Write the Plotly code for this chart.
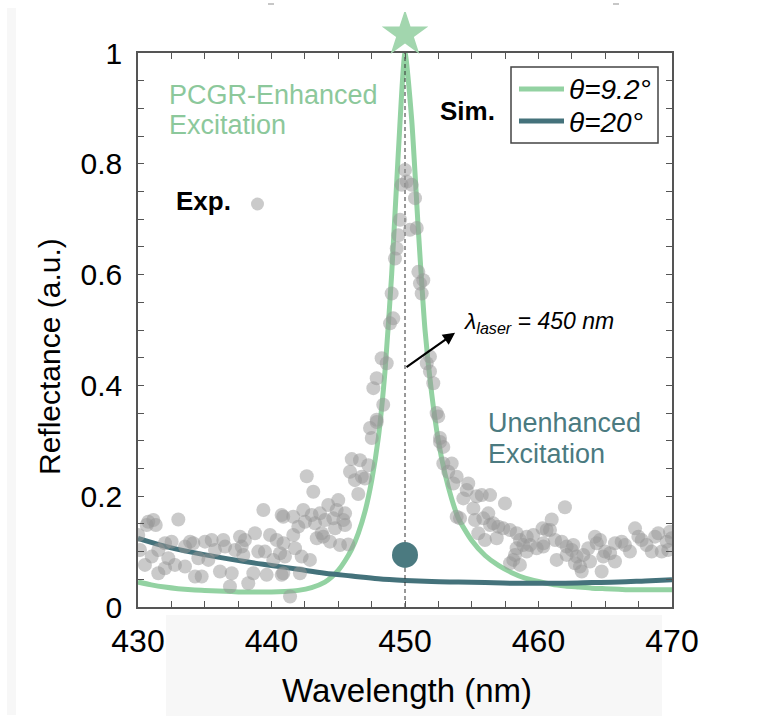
import plotly.graph_objects as go

# ---------------- data ----------------
# simulated reflectance, theta = 9.2 deg (resonant)
sim92_wl = [430, 431, 432, 433, 434, 435, 436, 437, 438, 439, 440, 441, 442, 443, 444,
            444.5, 445, 445.5, 446, 446.5, 447, 447.5, 448, 448.5, 449, 449.5, 450,
            450.5, 451, 451.5, 452, 452.5, 453, 453.5, 454, 455, 456, 457, 458, 459,
            460, 461, 462, 463, 464, 465, 466, 467, 468, 469, 470]
sim92_r = [0.045, 0.040, 0.036, 0.033, 0.031, 0.030, 0.029, 0.028, 0.027, 0.027, 0.027,
           0.028, 0.030, 0.035, 0.045, 0.054, 0.066, 0.083, 0.104, 0.133, 0.172, 0.228,
           0.305, 0.425, 0.600, 0.820, 1.000, 0.880, 0.680, 0.500, 0.385, 0.300, 0.240,
           0.195, 0.160, 0.120, 0.093, 0.075, 0.062, 0.052, 0.046, 0.041, 0.038, 0.036,
           0.034, 0.033, 0.032, 0.031, 0.031, 0.031, 0.031]

# simulated reflectance, theta = 20 deg (off resonance)
sim20_wl = [430, 432, 434, 436, 438, 440, 442, 444, 446, 448, 450, 452, 454, 456, 458,
            460, 462, 464, 466, 468, 470]
sim20_r = [0.124, 0.110, 0.099, 0.090, 0.082, 0.075, 0.068, 0.061, 0.056, 0.051, 0.048,
           0.046, 0.045, 0.044, 0.043, 0.043, 0.043, 0.044, 0.045, 0.047, 0.049]

# measured reflectance spectrum
exp_wl = [430.77, 431.15, 431.33, 430.65, 433.02, 430.02, 430.15, 431.03, 430.52, 431.52,
          432.02, 432.27, 432.77, 433.52, 432.52, 432.02, 431.52, 433.52, 433.90, 434.14,
          434.52, 434.27, 434.77, 435.02, 435.52, 435.77, 435.27, 436.14, 436.39, 436.52,
          437.02, 436.89, 437.27, 437.64, 437.77, 438.01, 437.89, 438.26, 438.64, 438.76,
          439.01, 439.39, 439.51, 439.64, 439.89, 440.13, 440.39, 440.76, 440.64, 440.76,
          447.38, 447.88, 447.51, 446.01, 446.63, 447.25, 445.88, 446.25, 446.76, 447.00,
          446.50, 442.64, 443.13, 444.25, 445.00, 444.88, 445.51, 442.38, 440.88, 441.63,
          443.01, 443.63, 442.51, 442.01, 443.26, 444.01, 444.63, 445.38, 444.76, 445.51,
          441.63, 443.76, 443.39, 443.88, 444.38, 445.13, 445.75, 440.90, 441.76, 441.01,
          442.26, 442.88, 442.13, 440.88, 441.39,
          450.00, 450.13, 449.75, 450.50, 450.75, 449.63, 450.37, 450.88, 449.50, 449.38,
          449.25, 451.00, 451.37, 451.12, 451.25, 449.00, 449.12, 448.88, 448.25, 448.63,
          451.87, 451.63, 451.87, 452.12, 447.88, 447.63, 448.37, 452.37, 452.49, 447.88,
          452.62,
          452.62, 452.87, 452.87, 453.50, 453.24, 453.87, 453.62, 454.74, 454.62, 454.37,
          455.37, 455.75, 456.37, 457.49, 455.12, 453.87, 454.12, 455.24, 455.87, 456.24,
          456.61, 456.99, 456.37, 457.36, 457.87, 455.49, 455.99, 456.87, 458.36, 458.61,
          459.12, 459.61, 458.86, 459.36, 459.86, 458.36, 459.12, 458.24, 458.11, 457.87,
          458.61, 460.36, 460.61,
          461.98, 460.99, 460.30, 460.86, 460.36, 461.24, 461.74, 462.11, 462.61, 462.49,
          462.11, 461.36, 462.86, 462.73, 463.36, 463.11, 463.86, 463.24, 463.73, 464.23,
          464.36, 464.61, 464.98, 464.85, 465.36, 465.73, 464.73, 465.73, 466.23, 466.48,
          466.85, 467.23, 467.48, 467.73, 468.10, 468.48, 468.73, 468.97, 469.23, 469.60,
          469.85, 469.98, 469.72]
exp_r = [0.154, 0.157, 0.148, 0.148, 0.158, 0.130, 0.103, 0.091, 0.076, 0.061,
         0.070, 0.088, 0.076, 0.073, 0.118, 0.115, 0.103, 0.109, 0.118, 0.115,
         0.088, 0.055, 0.055, 0.118, 0.121, 0.103, 0.085, 0.064, 0.121, 0.109,
         0.061, 0.037, 0.103, 0.127, 0.109, 0.121, 0.094, 0.043, 0.061, 0.133,
         0.100, 0.175, 0.100, 0.058, 0.130, 0.085, 0.121, 0.166, 0.097, 0.058,
         0.323, 0.334, 0.305, 0.267, 0.265, 0.256, 0.244, 0.229, 0.235, 0.232,
         0.204, 0.236, 0.208, 0.184, 0.193, 0.175, 0.169, 0.175, 0.163, 0.163,
         0.166, 0.169, 0.154, 0.145, 0.151, 0.157, 0.160, 0.157, 0.142, 0.148,
         0.130, 0.133, 0.124, 0.127, 0.118, 0.112, 0.113, 0.115, 0.106, 0.091,
         0.091, 0.085, 0.061, 0.061, 0.019,
         0.789, 0.768, 0.762, 0.762, 0.738, 0.699, 0.681, 0.684, 0.671, 0.647,
         0.629, 0.605, 0.590, 0.584, 0.566, 0.566, 0.521, 0.512, 0.449, 0.440,
         0.452, 0.440, 0.425, 0.404, 0.413, 0.395, 0.365, 0.350, 0.344, 0.338,
         0.305,
         0.298, 0.289, 0.259, 0.259, 0.244, 0.235, 0.223, 0.223, 0.211, 0.196,
         0.200, 0.202, 0.202, 0.187, 0.178, 0.163, 0.160, 0.157, 0.160, 0.169,
         0.151, 0.145, 0.148, 0.142, 0.139, 0.133, 0.121, 0.124, 0.133, 0.121,
         0.127, 0.130, 0.112, 0.112, 0.106, 0.106, 0.100, 0.094, 0.085, 0.079,
         0.076, 0.109, 0.139,
         0.180, 0.158, 0.142, 0.139, 0.115, 0.121, 0.118, 0.109, 0.112, 0.103,
         0.094, 0.085, 0.091, 0.079, 0.094, 0.073, 0.082, 0.064, 0.106, 0.127,
         0.115, 0.121, 0.100, 0.091, 0.097, 0.082, 0.064, 0.115, 0.118, 0.112,
         0.100, 0.142, 0.127, 0.121, 0.112, 0.100, 0.127, 0.133, 0.100, 0.118,
         0.136, 0.124, 0.103]

laser_wl = 450          # excitation laser wavelength (nm)
peak_marker_r = 1.034   # star drawn just above the resonance peak
unenhanced_r = 0.094    # reflectance at the laser line for theta = 20 deg

x_ticks = [430, 440, 450, 460, 470]
y_ticks = [0, 0.2, 0.4, 0.6, 0.8, 1]
y_ticktext = ["0", "0.2", "0.4", "0.6", "0.8", "1"]

# ---------------- style ----------------
GREEN = "#93d2a2"
GREEN_TXT = "#8cc89b"
TEAL = "#44727b"
TEAL_TXT = "#4b7a80"
AXIS = "#555555"
FONT = "Liberation Sans, Arial, Helvetica, sans-serif"

# figure geometry (px). The drawing area reaches above the axes box so the
# peak star can sit over the frame on an auxiliary, hidden y axis.
W, H = 771, 726
L, R, T, B = 138, 99, 12, 119
BOX_TOP = 53                       # pixel row of reflectance = 1
PW, PH = W - L - R, H - T - B
BOX_H = H - B - BOX_TOP
Y_DOMAIN_TOP = BOX_H / PH
Y2_TOP = PH / BOX_H                # same scale as the main axis


def px(x):
    return (x - L) / PW


def py(y):
    return (H - B - y) / PH


fig = go.Figure()

fig.add_trace(go.Scatter(x=sim92_wl, y=sim92_r, mode="lines",
                         line=dict(color=GREEN, width=5, shape="spline", smoothing=0.6),
                         name="θ=9.2°", showlegend=False))
fig.add_trace(go.Scatter(x=sim20_wl, y=sim20_r, mode="lines",
                         line=dict(color=TEAL, width=5, shape="spline"),
                         name="θ=20°", showlegend=False))
fig.add_trace(go.Scatter(x=[laser_wl, laser_wl], y=[0, 1], mode="lines",
                         line=dict(color="#333333", width=1, dash="4px,3px"),
                         showlegend=False, hoverinfo="skip"))
fig.add_trace(go.Scatter(x=exp_wl, y=exp_r, mode="markers",
                         marker=dict(size=14, color="rgb(150,150,150)", opacity=0.5,
                                     line=dict(width=0)),
                         name="Exp.", showlegend=False))
fig.add_trace(go.Scatter(x=[laser_wl], y=[unenhanced_r], mode="markers",
                         marker=dict(size=26, color=TEAL_TXT), showlegend=False))
fig.add_trace(go.Scatter(x=[laser_wl], y=[peak_marker_r], mode="markers",
                         xaxis="x", yaxis="y2",
                         marker=dict(size=35, symbol="star", color="#a2d6ae",
                                     line=dict(width=0)),
                         showlegend=False))

shapes = [
    # faint backdrop panels
    dict(type="rect", xref="paper", yref="paper", layer="below",
         x0=px(166), x1=px(662), y0=py(716), y1=py(615),
         fillcolor="#f7f7f7", line=dict(width=0)),
    dict(type="rect", xref="paper", yref="paper", layer="below",
         x0=px(7), x1=px(16), y0=py(715), y1=py(8),
         fillcolor="#f7f7f7", line=dict(width=0)),
    dict(type="line", xref="paper", yref="paper", x0=px(268), x1=px(274),
         y0=py(4), y1=py(4), line=dict(color="#b5b5b5", width=1.5)),
    dict(type="line", xref="paper", yref="paper", x0=px(613), x1=px(619),
         y0=py(4), y1=py(4), line=dict(color="#b5b5b5", width=1.5)),
    # simulation legend box
    dict(type="rect", xref="paper", yref="paper",
         x0=px(511), x1=px(658), y0=py(143), y1=py(67),
         fillcolor="white", line=dict(color="#444444", width=1.5)),
    dict(type="line", xref="paper", yref="paper", x0=px(519), x1=px(564),
         y0=py(89), y1=py(89), line=dict(color=GREEN, width=5)),
    dict(type="line", xref="paper", yref="paper", x0=px(519), x1=px(564),
         y0=py(121), y1=py(121), line=dict(color=TEAL, width=5)),
    # experiment key
    dict(type="circle", xref="paper", yref="paper",
         x0=px(251), x1=px(264), y0=py(210.5), y1=py(197.5),
         fillcolor="rgba(150,150,150,0.5)", line=dict(width=0)),
]

ann = []


def label(text, x, y, size, color="black", anchor="left", angle=0):
    ann.append(dict(text=text, xref="paper", yref="paper", x=px(x), y=py(y),
                    xanchor=anchor, yanchor="middle", showarrow=False,
                    textangle=angle,
                    font=dict(family=FONT, size=size, color=color)))


label("<i>θ=9.2°</i>", 567, 90, 28)
label("<i>θ=20°</i>", 567, 122, 28)
label("<b>Sim.</b>", 438, 111, 26)
label("<b>Exp.</b>", 174, 201, 26)
label("PCGR-Enhanced", 167, 95, 27, GREEN_TXT)
label("Excitation", 167, 125, 27, GREEN_TXT)
label("Unenhanced", 486, 423, 27, TEAL_TXT)
label("Excitation", 486, 454, 27, TEAL_TXT)
label("Reflectance (a.u.)", 50, 357, 30, anchor="center", angle=-90)
label("Wavelength (nm)", 407, 690, 33, anchor="center")

# laser-line callout
ann.append(dict(text="", x=453.75, y=0.495, ax=laser_wl, ay=0.431,
                xref="x", yref="y", axref="x", ayref="y", showarrow=True,
                arrowhead=2, arrowsize=1.1, arrowwidth=2.2, arrowcolor="black",
                standoff=0, startstandoff=0))
ann.append(dict(text="<i>λ<sub>laser</sub> = 450 nm</i>", x=454.2, y=0.513,
                xref="x", yref="y", xanchor="left", yanchor="middle",
                showarrow=False, font=dict(family=FONT, size=23, color="black")))

axis_common = dict(showgrid=False, zeroline=False, showline=True, linecolor=AXIS,
                   linewidth=1.5, mirror="ticks", ticks="inside", ticklen=6,
                   tickwidth=1.2, tickcolor=AXIS)

fig.update_layout(
    width=W, height=H,
    margin=dict(l=L, r=R, t=T, b=B, autoexpand=False),
    paper_bgcolor="white", plot_bgcolor="rgba(0,0,0,0)",
    showlegend=False,
    font=dict(family=FONT),
    xaxis=dict(range=[430, 470], tickvals=x_ticks, anchor="y",
               minor=dict(dtick=2.5, tick0=430, ticks="inside", ticklen=6,
                          tickwidth=1.2, tickcolor=AXIS),
               ticklabelstandoff=5,
               tickfont=dict(family=FONT, size=32, color="black"),
               **axis_common),
    yaxis=dict(range=[0, 1], domain=[0, Y_DOMAIN_TOP], tickvals=y_ticks,
               ticktext=y_ticktext, anchor="x",
               minor=dict(dtick=0.05, tick0=0, ticks="inside", ticklen=6,
                          tickwidth=1.2, tickcolor=AXIS),
               ticklabelstandoff=8,
               tickfont=dict(family=FONT, size=30, color="black"),
               **axis_common),
    yaxis2=dict(range=[0, Y2_TOP], domain=[0, 1], anchor="x", visible=False,
                showgrid=False, zeroline=False),
    shapes=shapes,
    annotations=ann,
)

fig.write_html("out.html")
